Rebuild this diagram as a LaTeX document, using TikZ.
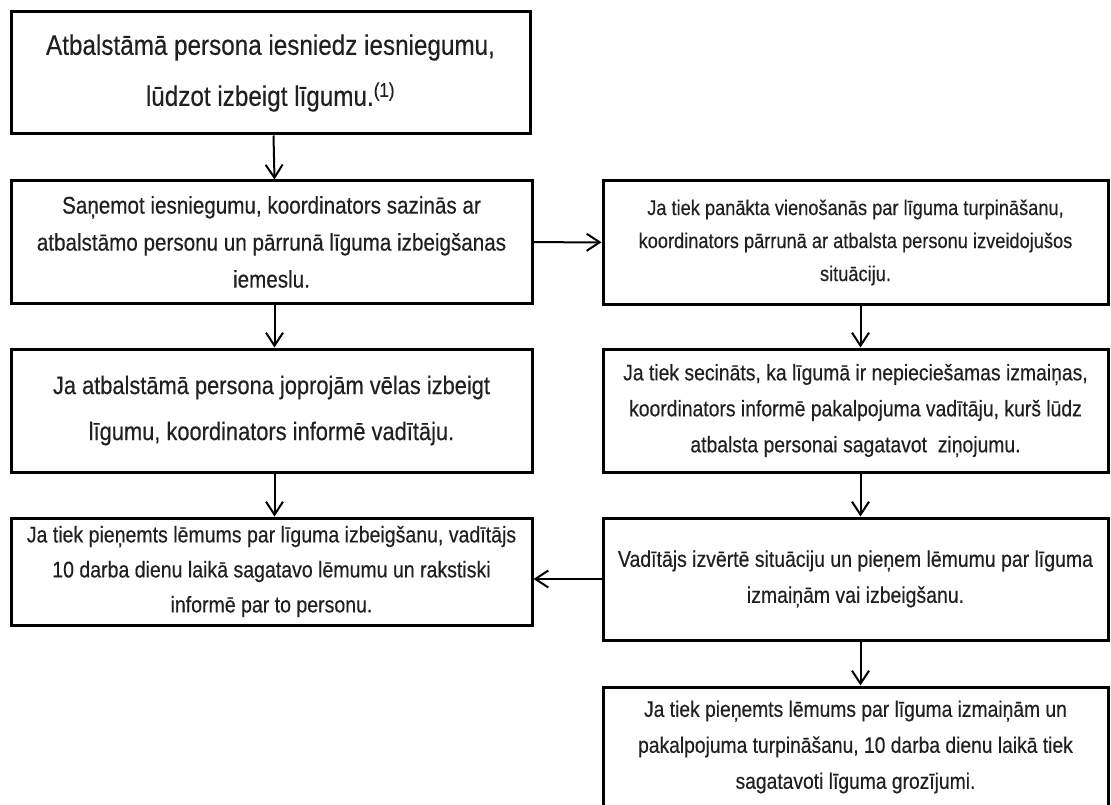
\documentclass[tikz,border=0pt]{standalone}
\usepackage{fontspec}
\setmainfont{Liberation Sans}[FakeStretch=0.86, FakeBold=0.35]
\usetikzlibrary{arrows.meta}

\definecolor{ink}{HTML}{202020}

\tikzset{
  box/.style={draw=black, line width=3pt, inner sep=0pt, align=center, text=ink},
  flow/.style={draw=black, line width=2pt, -{Straight Barb[length=13pt,width=17pt,line width=2pt]}},
}

\begin{document}
\begin{tikzpicture}[x=1pt,y=-1pt]
  \useasboundingbox (0,0) rectangle (1111,805);
  \fill[white] (0,0) rectangle (1111,805);

  % left column
  \node[box, font=\fontsize{28.2}{51}\selectfont, minimum width=519pt, minimum height=122pt] (b1) at (270.5,73)
    {Atbalstāmā persona iesniedz iesniegumu,\\lūdzot izbeigt līgumu.\textsuperscript{(1)}};
  \node[box, font=\fontsize{24}{37}\selectfont, minimum width=521pt, minimum height=122pt] (b2) at (271.5,242)
    {Saņemot iesniegumu, koordinators sazinās ar\\atbalstāmo personu un pārrunā līguma izbeigšanas\\iemeslu.};
  \node[box, font=\fontsize{25.4}{46}\selectfont, minimum width=521pt, minimum height=123pt] (b3) at (271.5,410.5)
    {Ja atbalstāmā persona joprojām vēlas izbeigt\\līgumu, koordinators informē vadītāju.};
  \node[box, font=\fontsize{22.7}{35}\selectfont, minimum width=521pt, minimum height=107pt] (b4) at (271.5,571.5)
    {Ja tiek pieņemts lēmums par līguma izbeigšanu, vadītājs\\10 darba dienu laikā sagatavo lēmumu un rakstiski\\informē par to personu.};

  % right column
  \node[box, font=\fontsize{21.2}{33}\selectfont, minimum width=505pt, minimum height=123pt] (r1) at (855.5,242.5)
    {Ja tiek panākta vienošanās par līguma turpināšanu,\\koordinators pārrunā ar atbalsta personu izveidojušos\\situāciju.};
  \node[box, font=\fontsize{22.5}{36}\selectfont, minimum width=505pt, minimum height=123pt] (r2) at (855.5,410.5)
    {Ja tiek secināts, ka līgumā ir nepieciešamas izmaiņas,\\koordinators informē pakalpojuma vadītāju, kurš lūdz\\atbalsta personai sagatavot\ \ ziņojumu.};
  \node[box, font=\fontsize{22.6}{36}\selectfont, minimum width=505pt, minimum height=122pt] (r3) at (855.5,579)
    {Vadītājs izvērtē situāciju un pieņem lēmumu par līguma\\izmaiņām vai izbeigšanu.};
  \node[box, font=\fontsize{22.4}{36}\selectfont, minimum width=505pt, minimum height=120pt] (r4) at (855.5,747)
    {Ja tiek pieņemts lēmums par līguma izmaiņām un\\pakalpojuma turpināšanu, 10 darba dienu laikā tiek\\sagatavoti līguma grozījumi.};

  % connectors
  \draw[flow] ([xshift=3pt]b1.south) -- ([xshift=3pt]b2.north);
  \draw[flow] ([xshift=3pt]b2.south) -- ([xshift=3pt]b3.north);
  \draw[flow] ([xshift=3pt]b3.south) -- ([xshift=3pt]b4.north);
  \draw[flow] (b2) -- (r1);
  \draw[flow] ([xshift=5pt]r1.south) -- ([xshift=5pt]r2.north);
  \draw[flow] ([xshift=5pt]r2.south) -- ([xshift=5pt]r3.north);
  \draw[flow] ([xshift=5pt]r3.south) -- ([xshift=5pt]r4.north);
  \draw[flow] (r3.west) -- (r3.west -| b4.east);
\end{tikzpicture}
\end{document}
